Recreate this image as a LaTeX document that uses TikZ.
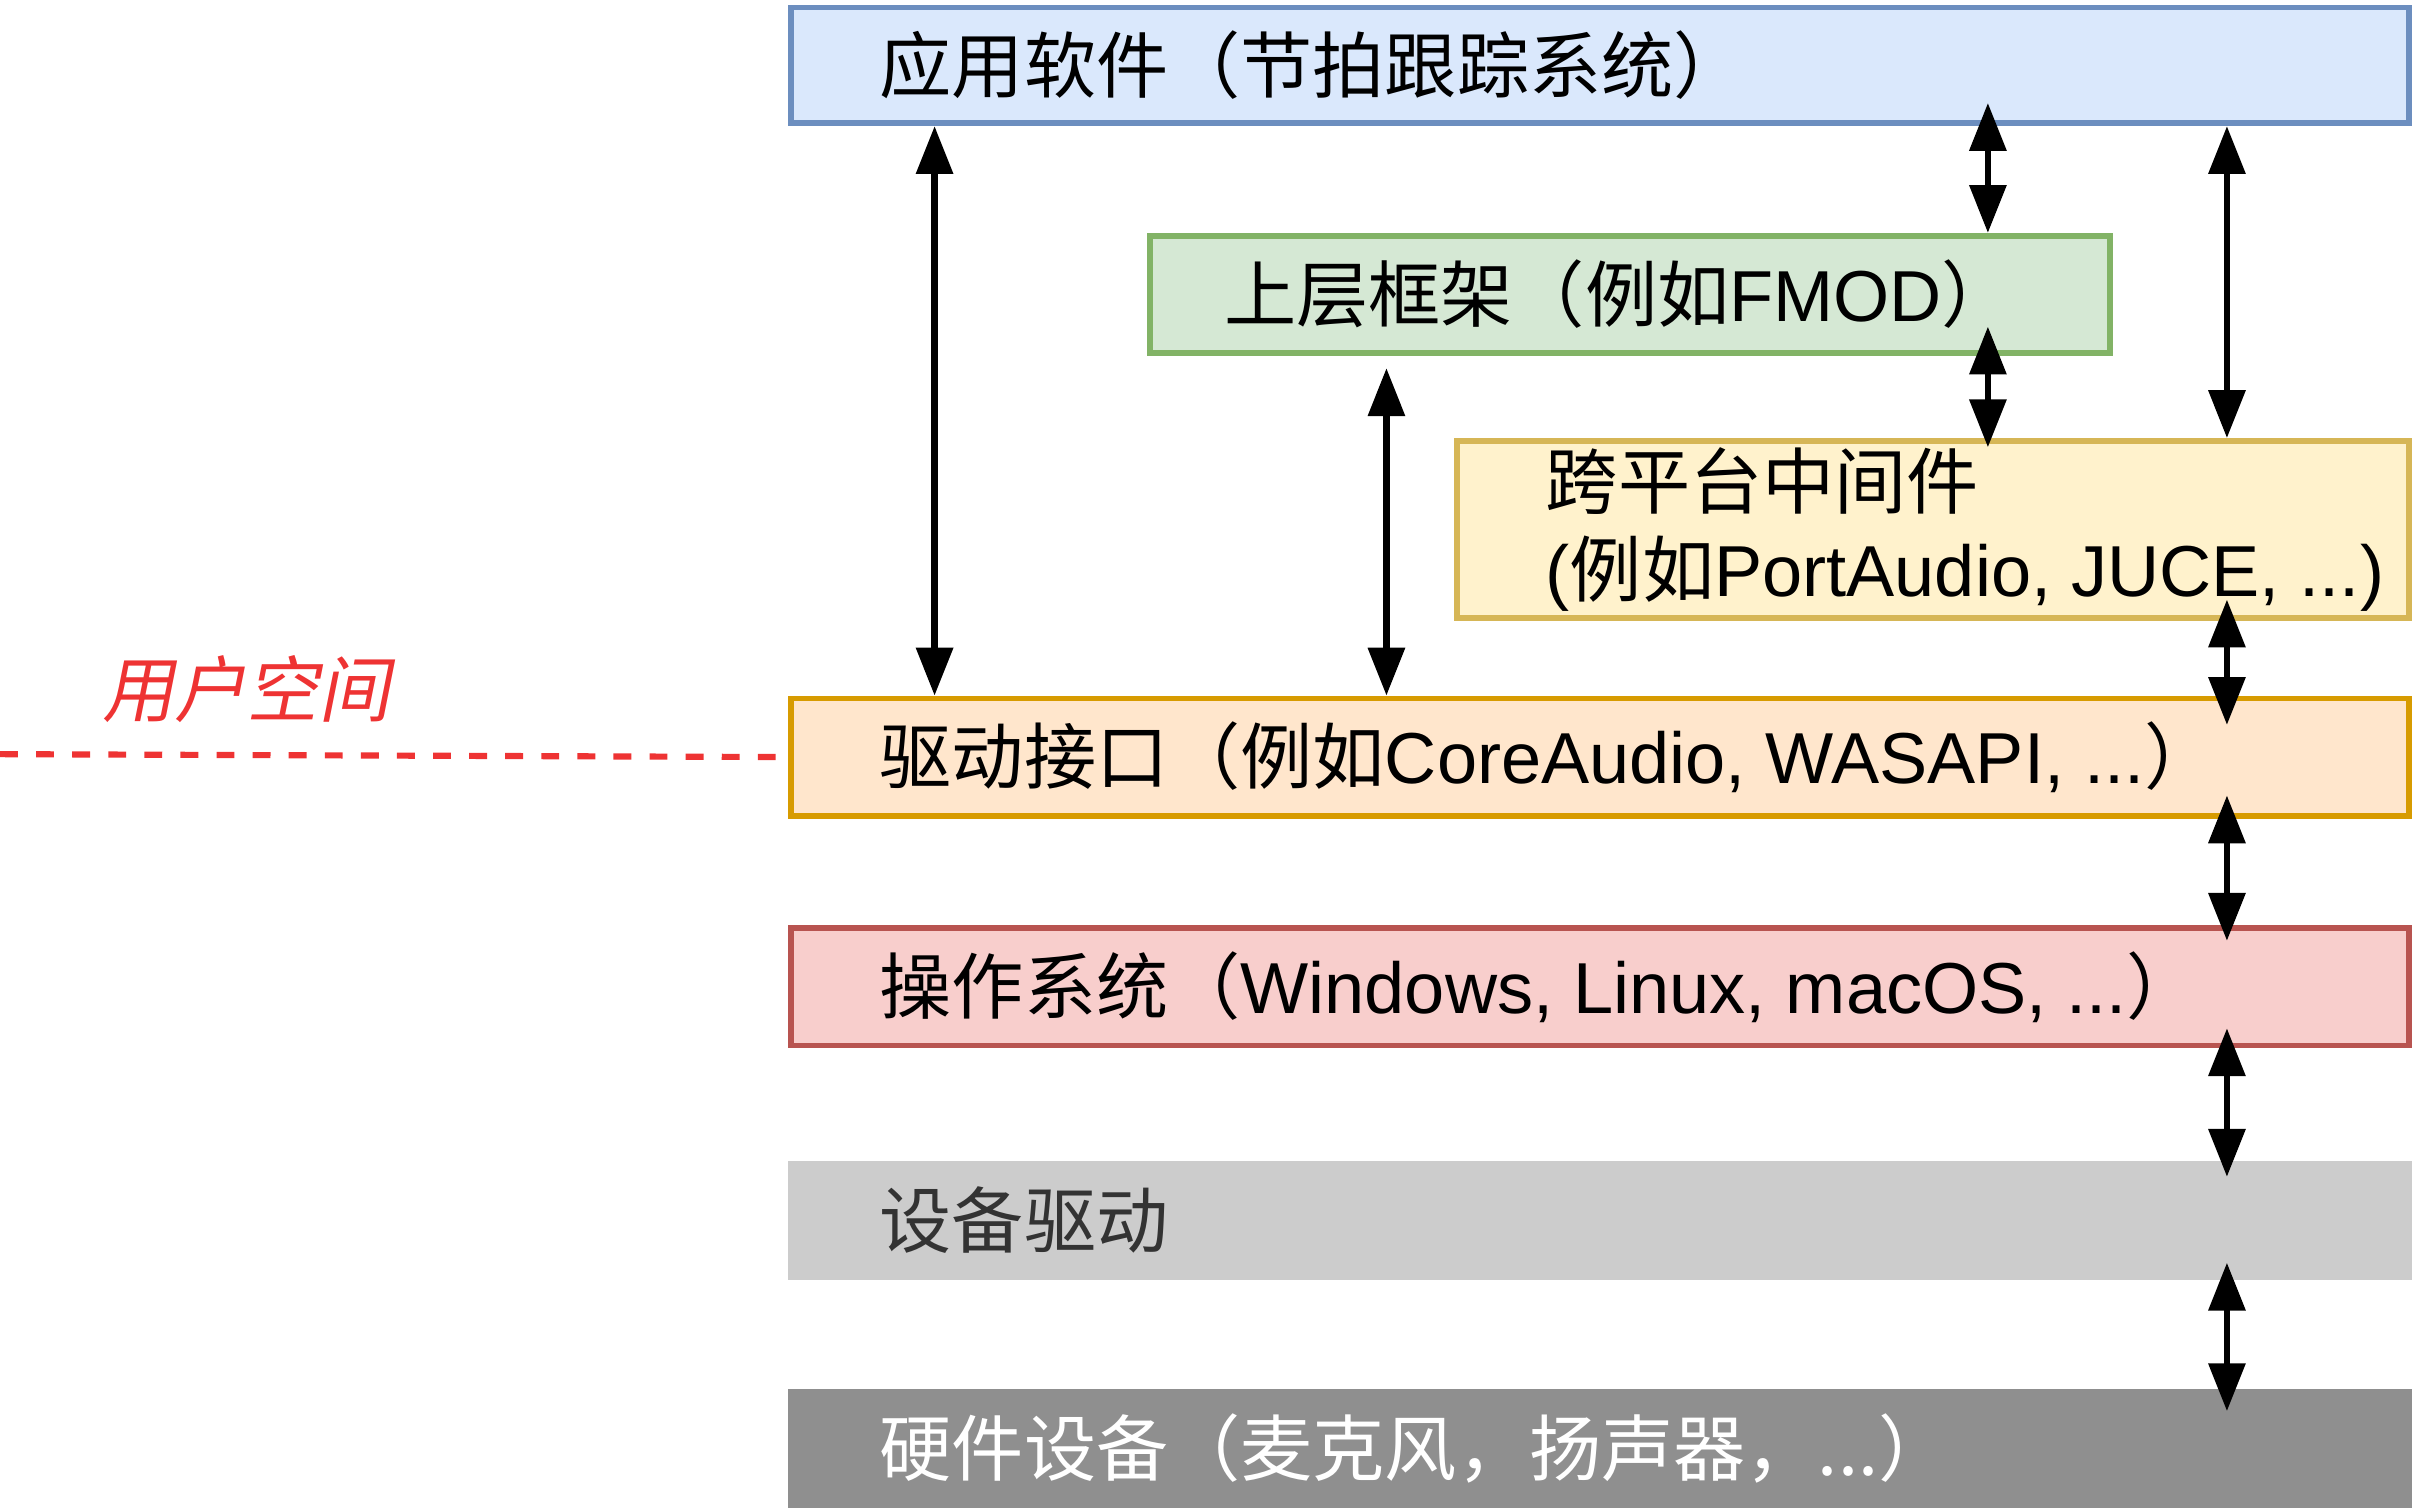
\documentclass[tikz,border=0pt]{standalone}
\usepackage{fontspec}
\setmainfont{Liberation Sans}
\newfontfamily\cjk{Noto Sans CJK SC}
\newfontfamily\cjkit[FakeSlant=0.2]{Noto Sans CJK SC}
\usetikzlibrary{arrows.meta}

\definecolor{appfill}{HTML}{DAE8FC}\definecolor{appline}{HTML}{6C8EBF}
\definecolor{fwfill}{HTML}{D5E8D4}\definecolor{fwline}{HTML}{82B366}
\definecolor{midfill}{HTML}{FFF2CC}\definecolor{midline}{HTML}{D6B656}
\definecolor{drvfill}{HTML}{FFE6CC}\definecolor{drvline}{HTML}{D79B00}
\definecolor{osfill}{HTML}{F8CECC}\definecolor{osline}{HTML}{B85450}
\definecolor{devfill}{HTML}{CCCCCC}\definecolor{devtext}{HTML}{333333}
\definecolor{hwfill}{HTML}{8F8F8F}
\definecolor{userred}{HTML}{EE3333}

\begin{document}
\begin{tikzpicture}[x=0.5pt,y=-0.5pt,
    font=\fontsize{23.4}{28.5}\selectfont,
    layer/.style={rectangle,inner sep=0pt,anchor=north west,line width=1.9pt},
    txt/.style={inner sep=0pt,anchor=west,align=left},
    biarrow/.style={{Triangle[length=15.5pt,width=11.7pt]}-{Triangle[length=15.5pt,width=11.7pt]},line width=2pt},
    userline/.style={draw=userred,line width=2pt,dash pattern=on 5.8pt off 5.9pt}]
  \useasboundingbox (0,0) rectangle (1564,980.4);

  % layers
  \node[layer,draw=appline,fill=appfill,minimum width=524.5pt,minimum height=37.5pt] (app) at (511,3) {};
  \node[layer,draw=fwline,fill=fwfill,minimum width=311pt,minimum height=38pt] (fw) at (744,151) {};
  \node[layer,draw=midline,fill=midfill,minimum width=308.5pt,minimum height=57.5pt] (mid) at (943,284) {};
  \node[layer,draw=drvline,fill=drvfill,minimum width=524.5pt,minimum height=38pt] (drv) at (511,451) {};
  \node[layer,draw=osline,fill=osfill,minimum width=524.5pt,minimum height=38pt] (os) at (511,600) {};
  \node[layer,fill=devfill,minimum width=526.5pt,minimum height=38.5pt] (dev) at (509,751) {};
  \node[layer,fill=hwfill,minimum width=526.5pt,minimum height=38.5pt] (hw) at (509,899) {};

  % texts
  \node[txt] (appt) at ([xshift=29.5pt]app.west) {\cjk 应用软件（节拍跟踪系统）};
  \node[inner sep=0pt] (fwt) at ([xshift=-3.5pt]fw.center) {{\cjk 上层框架（例如}FMOD{\cjk ）}};
  \node[txt] (midt) at ([xshift=29.5pt]mid.west) {{\cjk 跨平台中间件}\\({\cjk 例如}PortAudio, JUCE, ...)};
  \node[txt] (drvt) at ([xshift=29.5pt]drv.west) {{\cjk 驱动接口（例如}CoreAudio, WASAPI, ...{\cjk ）}};
  \node[txt] (ost) at ([xshift=29.5pt]os.west) {{\cjk 操作系统（}Windows, Linux, macOS, ...{\cjk ）}};
  \node[txt,text=devtext] (devt) at ([xshift=30.5pt]dev.west) {\cjk 设备驱动};
  \node[txt,text=white] (hwt) at ([xshift=30.5pt]hw.west) {\cjk 硬件设备（麦克风，扬声器，...）};

  % user space
  \node[text=userred,inner sep=0pt] (user) at (160,447) {\cjkit 用户空间};
  \coordinate (edge) at (0,489);
  \path[userline] (edge) -- (drv.west);

  % connectors
  \coordinate (a1) at (606,0);
  \coordinate (a2) at (899,0);
  \coordinate (a3) at (1289,0);
  \coordinate (a4) at (1444,0);
  \draw[biarrow] (app.south -| a1) -- (drv.north -| a1);
  \draw[biarrow,shorten <=4pt] (fw.south -| a2) -- (drv.north -| a2);
  \draw[biarrow,shorten <=-7.5pt] (app.south -| a3) -- (fw.north -| a3);
  \draw[biarrow,shorten <=-9.5pt,shorten >=-3pt] (fw.south -| a3) -- (mid.north -| a3);
  \draw[biarrow] (app.south -| a4) -- (mid.north -| a4);
  \draw[biarrow,shorten <=-7pt,shorten >=-9.5pt] (mid.south -| a4) -- (drv.north -| a4);
  \draw[biarrow,shorten <=-7.5pt,shorten >=-5pt] (drv.south -| a4) -- (os.north -| a4);
  \draw[biarrow,shorten <=-6.5pt,shorten >=-6pt] (os.south -| a4) -- (dev.north -| a4);
  \draw[biarrow,shorten <=-6.5pt,shorten >=-8pt] (dev.south -| a4) -- (hw.north -| a4);
\end{tikzpicture}
\end{document}
